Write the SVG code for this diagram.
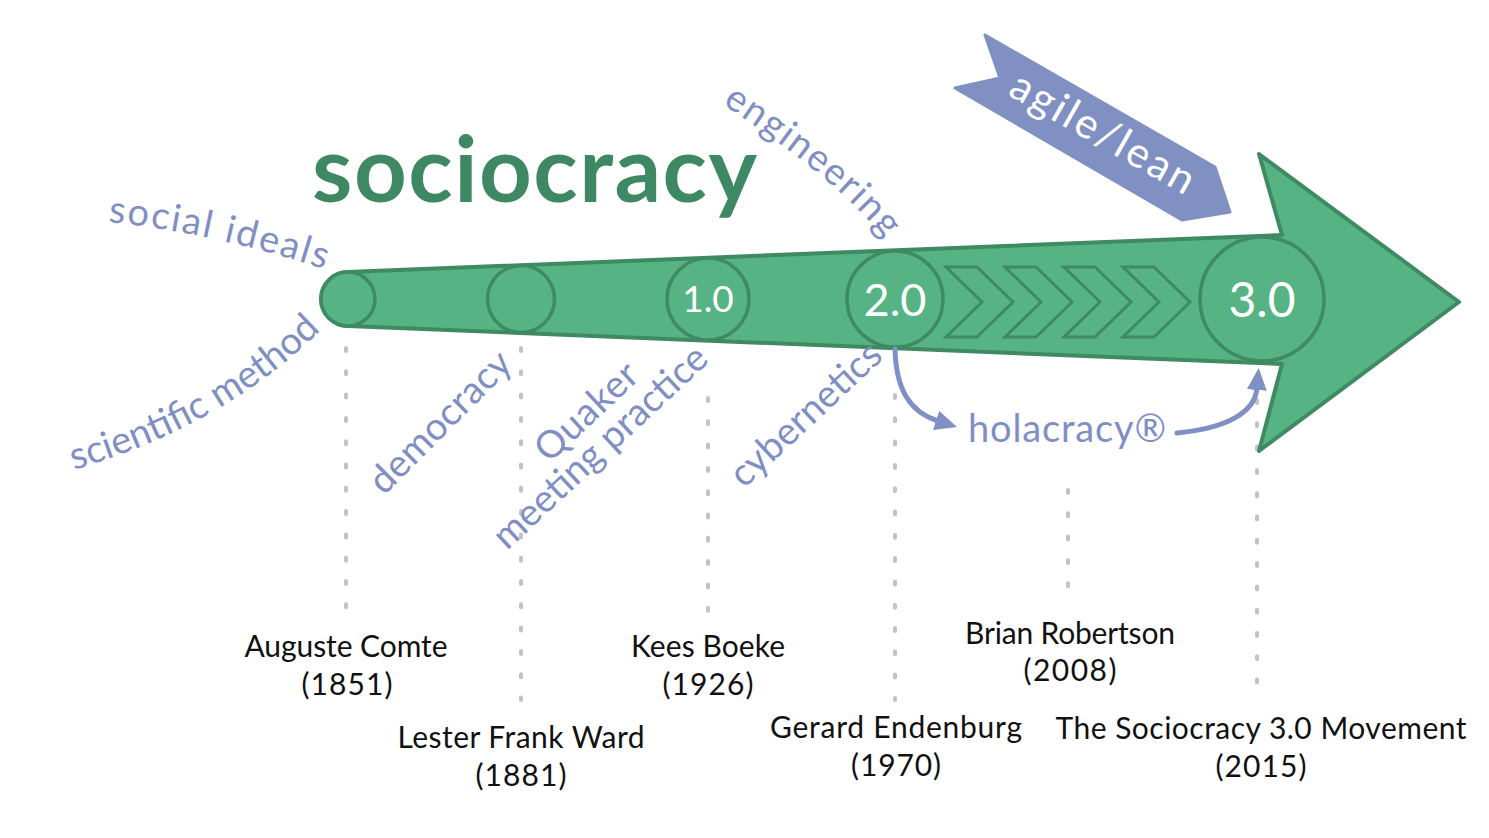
<svg xmlns="http://www.w3.org/2000/svg" width="1489" height="838" viewBox="0 0 1489 838">
<style>
.dot{stroke:#c2c2c2;stroke-width:4;stroke-dasharray:3 20.3;stroke-linecap:round;fill:none}
.body{fill:#55b384;stroke:#3f8a63;stroke-width:4;stroke-linejoin:round}
.node{fill:#55b384;stroke:#3f8a63;stroke-width:3.5}
.chev{fill:none;stroke:#3f8a63;stroke-width:3;stroke-linejoin:miter}
.num{fill:#ffffff;font-family:Lato,"Noto Sans",sans-serif;text-anchor:middle}
.blue{fill:#7f8fc4;font-family:Lato,"Noto Sans",sans-serif;font-size:38px}
.lbl{fill:#111111;font-family:Lato,"Noto Sans",sans-serif;font-size:30px;text-anchor:middle}
.conn{fill:none;stroke:#8090c4;stroke-width:5;stroke-linecap:round}
</style>
<defs>
<marker id="ah" markerUnits="userSpaceOnUse" viewBox="0 0 22 20" refX="2" refY="10" markerWidth="22" markerHeight="20" orient="auto">
<path d="M0 0 L22 10 L0 20 Z" fill="#8090c4"/>
</marker>
<path id="p-social" d="M 108 222 Q 215 233 330 271"/>
<path id="p-sci" d="M 74 470 Q 228 424 323 328"/>
<path id="p-eng" d="M 722 104 Q 833 176 884 238"/>
</defs>

<g id="guides">
<line class="dot" x1="346" y1="348" x2="346" y2="610"/>
<line class="dot" x1="521" y1="348" x2="521" y2="700"/>
<line class="dot" x1="708" y1="398" x2="708" y2="615"/>
<line class="dot" x1="895" y1="395" x2="895" y2="700"/>
<line class="dot" x1="1068" y1="490" x2="1068" y2="600"/>
<line class="dot" x1="1257" y1="400" x2="1257" y2="690"/>
</g>

<g id="agile-lean">
<path d="M 985 35 L 1215 167 L 1230 212 L 1182 220 L 955 88 L 1000 78 Z" fill="#8190c3" stroke="#8190c3" stroke-width="3" stroke-linejoin="round"/>
<text x="0" y="0" transform="translate(1096,145) rotate(29.5)" font-family="Lato,'Noto Sans',sans-serif" font-size="42" fill="#ffffff" text-anchor="middle" textLength="205">agile/lean</text>
</g>

<g id="timeline-arrow">
<path class="body" d="M 348 272 L 1282 235 L 1259 154 L 1459 302 L 1259 451 L 1282 364 L 348 326 A 27 27 0 0 1 348 272 Z"/>
</g>

<g id="chevrons">
<polygon class="chev" points="946,267 977,267 1013,302 977,337 946,337 982,302"/>
<polygon class="chev" points="1005,267 1036,267 1072,302 1036,337 1005,337 1041,302"/>
<polygon class="chev" points="1064,267 1095,267 1131,302 1095,337 1064,337 1100,302"/>
<polygon class="chev" points="1123,267 1154,267 1190,302 1154,337 1123,337 1159,302"/>
</g>

<g id="node-comte"><circle class="node" cx="348" cy="299" r="27"/></g>
<g id="node-ward"><circle class="node" cx="521" cy="299" r="33.5"/></g>
<g id="node-1"><circle class="node" cx="708" cy="299" r="41"/><text class="num" x="708" y="312" font-size="37">1.0</text></g>
<g id="node-2"><circle class="node" cx="895" cy="299" r="48"/><text class="num" x="895" y="316" font-size="45">2.0</text></g>
<g id="node-3"><circle class="node" cx="1262" cy="299" r="62"/><text class="num" x="1262" y="317" font-size="48">3.0</text></g>

<g id="connectors">
<path class="conn" d="M 895 349 C 896 390 910 412 938 421" marker-end="url(#ah)"/>
<path class="conn" d="M 1177 433 C 1228 428 1255 412 1257 388" marker-end="url(#ah)"/>
</g>

<g id="title">
<text x="312" y="202" font-family="Lato,'Noto Sans',sans-serif" font-weight="700" font-size="92" fill="#3e8863" textLength="445" lengthAdjust="spacing">sociocracy</text>
</g>

<g id="influences">
<text class="blue"><textPath href="#p-social" textLength="222">social ideals</textPath></text>
<text class="blue" font-size="39"><textPath href="#p-sci" textLength="287">scientific method</textPath></text>
<text class="blue" font-size="39"><textPath href="#p-eng" textLength="212">engineering</textPath></text>
<text class="blue" font-size="40" transform="translate(384,496) rotate(-45)" textLength="184">democracy</text>
<text class="blue" font-size="42" transform="translate(549,464) rotate(-43)" textLength="126">Quaker</text>
<text class="blue" font-size="40" transform="translate(507,551) rotate(-43)" textLength="278">meeting practice</text>
<text class="blue" font-size="40" transform="translate(744,489) rotate(-43)" textLength="192">cybernetics</text>
<text class="blue" x="968" y="442" font-size="43" textLength="198">holacracy®</text>
</g>

<g id="labels">
<text class="lbl" x="346" y="657" textLength="203">Auguste Comte</text>
<text class="lbl" x="347" y="695" textLength="91">(1851)</text>
<text class="lbl" x="521" y="748" textLength="247">Lester Frank Ward</text>
<text class="lbl" x="521" y="786" textLength="91">(1881)</text>
<text class="lbl" x="708" y="657" textLength="154">Kees Boeke</text>
<text class="lbl" x="708" y="695" textLength="91">(1926)</text>
<text class="lbl" x="896" y="738" textLength="252">Gerard Endenburg</text>
<text class="lbl" x="896" y="776" textLength="90">(1970)</text>
<text class="lbl" x="1070" y="644" textLength="210">Brian Robertson</text>
<text class="lbl" x="1070" y="681" textLength="93">(2008)</text>
<text class="lbl" x="1261" y="739" textLength="411">The Sociocracy 3.0 Movement</text>
<text class="lbl" x="1261" y="777" textLength="91">(2015)</text>
</g>
</svg>
